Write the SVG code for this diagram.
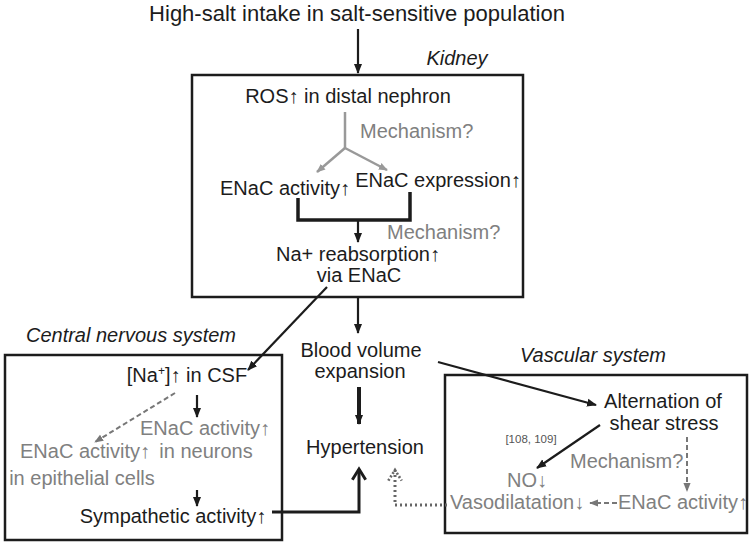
<svg xmlns="http://www.w3.org/2000/svg" width="750" height="547" viewBox="0 0 750 547">
<style>
text{font-family:"Liberation Sans",Arial,sans-serif;font-size:20px;fill:#1c1c1c}
.g{fill:#808080}
.it{font-style:italic}
.m{text-anchor:middle}
.box{fill:none;stroke:#1c1c1c;stroke-width:2.5}
.ln{fill:none;stroke:#1c1c1c;stroke-width:2.2}
.gl{fill:none;stroke:#999;stroke-width:2.5}
.dg{fill:none;stroke:#777;stroke-width:2;stroke-dasharray:5,3}
</style>
<defs>
<marker id="ah" viewBox="0 0 10 10" refX="9" refY="5" markerWidth="10" markerHeight="10" markerUnits="userSpaceOnUse" orient="auto"><path d="M0,1 L10,5 L0,9 z" fill="#1c1c1c"/></marker>
<marker id="ahg" viewBox="0 0 10 10" refX="9" refY="5" markerWidth="9" markerHeight="9" markerUnits="userSpaceOnUse" orient="auto"><path d="M0,1 L10,5 L0,9 z" fill="#999"/></marker>
<marker id="ahd" viewBox="0 0 10 10" refX="9" refY="5" markerWidth="9" markerHeight="9" markerUnits="userSpaceOnUse" orient="auto"><path d="M0,1 L10,5 L0,9 z" fill="#777"/></marker>
<marker id="chev" viewBox="0 0 12 12" refX="10" refY="6" markerWidth="16" markerHeight="16" markerUnits="userSpaceOnUse" orient="auto"><path d="M2,1 L10,6 L2,11" fill="none" stroke="#1c1c1c" stroke-width="2.2"/></marker>
<marker id="chevd" viewBox="0 0 12 12" refX="10" refY="6" markerWidth="16" markerHeight="16" markerUnits="userSpaceOnUse" orient="auto"><path d="M2,1 L10,6 L2,11" fill="none" stroke="#666" stroke-width="2" stroke-dasharray="1.5,1.5"/></marker>
</defs>
<rect width="750" height="547" fill="#fff"/>

<g id="title"><text class="m" x="357" y="21" style="font-size:22px">High-salt intake in salt-sensitive population</text></g>

<g id="kidney">
<text class="it m" x="457" y="65">Kidney</text>
<rect class="box" x="192" y="75" width="331" height="222"/>
</g>
<g id="ros"><text class="m" x="348" y="103">ROS↑ in distal nephron</text></g>
<g id="mech1"><text class="g" x="360" y="138">Mechanism?</text></g>
<g id="enac-act"><text class="m" x="285" y="195">ENaC activity↑</text></g>
<g id="enac-exp"><text class="m" x="438" y="187">ENaC expression↑</text></g>
<g id="mech2"><text class="g" x="387" y="239">Mechanism?</text></g>
<g id="na-reabs"><text class="m" x="358" y="261">Na+ reabsorption↑</text><text class="m" x="359" y="282">via ENaC</text></g>

<g id="blood"><text class="m" x="361" y="357">Blood volume</text><text class="m" x="360" y="378">expansion</text></g>
<g id="hyper"><text class="m" x="365" y="454">Hypertension</text></g>

<g id="cns">
<text class="it m" x="131" y="342">Central nervous system</text>
<rect class="box" x="5" y="355" width="277" height="185"/>
</g>
<g id="na-csf"><text class="m" x="187" y="382">[Na<tspan dy="-7" style="font-size:12px">+</tspan><tspan dy="7">]↑ in CSF</tspan></text></g>
<g id="enac-neur"><text class="g m" x="205" y="435">ENaC activity↑</text><text class="g m" x="206" y="458">in neurons</text></g>
<g id="enac-epi"><text class="g m" x="85" y="458">ENaC activity↑</text><text class="g m" x="82" y="485">in epithelial cells</text></g>
<g id="symp"><text class="m" x="173" y="523">Sympathetic activity↑</text></g>

<g id="vascular">
<text class="it m" x="593" y="362">Vascular system</text>
<rect class="box" x="445" y="375" width="302" height="158"/>
</g>
<g id="shear"><text class="m" x="663" y="408">Alternation of</text><text class="m" x="664" y="430">shear stress</text></g>
<g id="ref"><text class="m" x="531" y="443" style="font-size:11.5px;fill:#555">[108, 109]</text></g>
<g id="mech3"><text class="g" x="570" y="468">Mechanism?</text></g>
<g id="no"><text class="g" x="507" y="487">NO↓</text></g>
<g id="vasodil"><text class="g" x="450" y="509">Vasodilatation↓</text></g>
<g id="enac-vasc"><text class="g" x="618" y="509">ENaC activity↑</text></g>

<g id="connectors">
<line class="ln" x1="358" y1="29" x2="358" y2="73" marker-end="url(#ah)"/>
<line class="gl" x1="345" y1="112" x2="345" y2="148"/>
<line class="gl" x1="345" y1="148" x2="317" y2="172" marker-end="url(#ahg)"/>
<line class="gl" x1="345" y1="148" x2="387" y2="170" marker-end="url(#ahg)"/>
<path d="M298,198 V220 H410 V192" fill="none" stroke="#1c1c1c" stroke-width="3.5"/>
<line class="ln" x1="358" y1="220" x2="358" y2="242" marker-end="url(#ah)"/>
<line class="ln" x1="327" y1="287" x2="248" y2="370" marker-end="url(#ah)"/>
<line class="ln" x1="358" y1="297" x2="358" y2="333" marker-end="url(#ah)"/>
<line x1="359" y1="387" x2="359" y2="424" stroke="#1c1c1c" stroke-width="4" marker-end="url(#ah)"/>
<line class="ln" x1="197" y1="395" x2="197" y2="417" marker-end="url(#ah)"/>
<line class="dg" x1="175" y1="393" x2="95" y2="442" marker-end="url(#ahd)"/>
<line class="ln" x1="197" y1="490" x2="197" y2="506" marker-end="url(#ah)"/>
<path d="M272,512 H359 V469" fill="none" stroke="#1c1c1c" stroke-width="3" marker-end="url(#chev)"/>
<line class="ln" x1="438" y1="362" x2="596" y2="405" marker-end="url(#ah)"/>
<line class="ln" x1="600" y1="425" x2="537" y2="468" marker-end="url(#ah)"/>
<line class="dg" x1="687" y1="437" x2="687" y2="491" marker-end="url(#ahd)"/>
<line class="dg" x1="617" y1="503" x2="590" y2="503" marker-end="url(#ahd)"/>
<path d="M447,505 H395 V470" fill="none" stroke="#666" stroke-width="3" stroke-dasharray="2,3" marker-end="url(#chevd)"/>
</g>
</svg>
